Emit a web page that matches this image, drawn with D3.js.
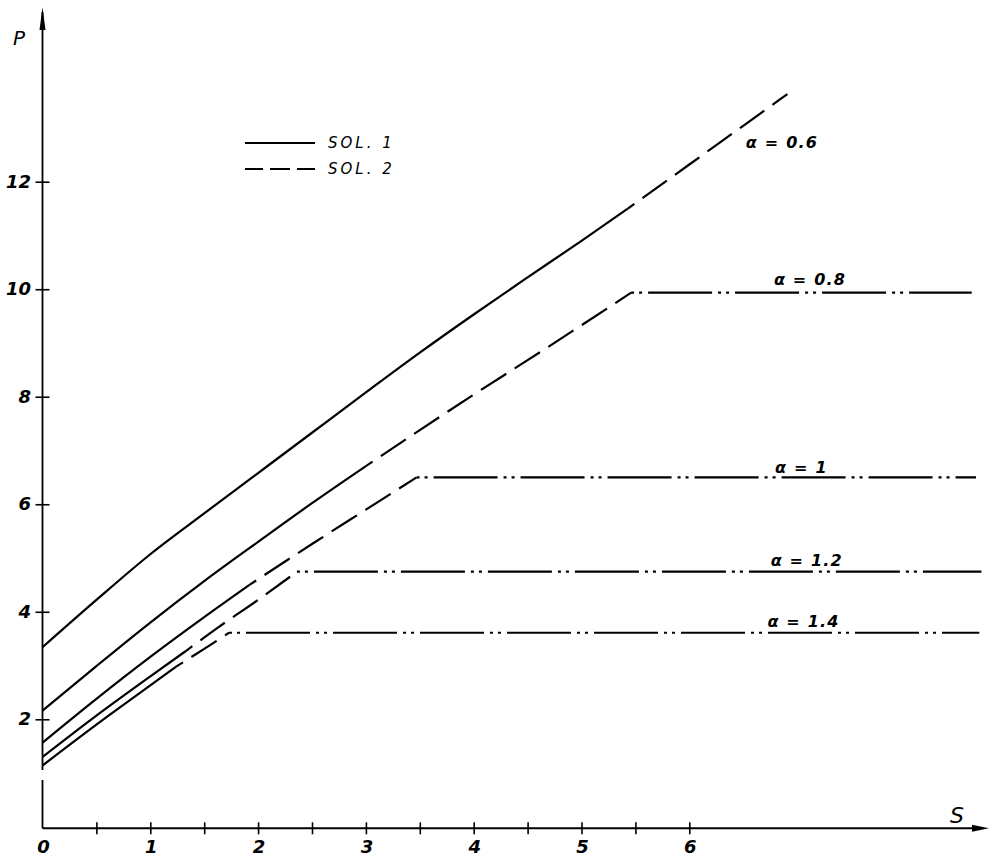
<!DOCTYPE html>
<html>
<head>
<meta charset="utf-8">
<script src="https://cdn.jsdelivr.net/npm/d3@7"></script>
<style>
  html, body { margin: 0; padding: 0; background: #fff; }
  svg { display: block; }
  text { font-family: "DejaVu Sans", sans-serif; font-style: italic; fill: #000; }
</style>
</head>
<body>
<svg id="chart" width="991" height="857"></svg>
<script>
// ---- data ----
const xTickValues = [0.5, 1, 1.5, 2, 2.5, 3, 3.5, 4, 4.5, 5, 5.5, 6];
const xTickLabels = ["0", "1", "2", "3", "4", "5", "6"];
const yTickValues = [2, 4, 6, 8, 10, 12];
const yTickLabels = ["2", "4", "6", "8", "10", "12"];

const alphaLabels = ["α = 0.6", "α = 0.8", "α = 1", "α = 1.2", "α = 1.4"];

// SOL. 1 (solid) branches
const sol1_s_06 = [0, 0.5, 1, 1.5, 2, 2.5, 3, 3.5, 4, 4.5, 5, 5.43];
const sol1_p_06 = [3.34, 4.22, 5.07, 5.83, 6.58, 7.33, 8.08, 8.82, 9.53, 10.22, 10.90, 11.50];
const sol1_s_08 = [0, 0.5, 1, 1.5, 2, 2.5, 3];
const sol1_p_08 = [2.16, 2.99, 3.80, 4.57, 5.30, 6.02, 6.71];
const sol1_s_10 = [0, 0.5, 1, 1.5, 1.92];
const sol1_p_10 = [1.565, 2.38, 3.16, 3.90, 4.50];
const sol1_s_12 = [0, 0.5, 1, 1.33];
const sol1_p_12 = [1.30, 2.07, 2.80, 3.27];
const sol1_s_14 = [0, 0.5, 1, 1.24];
const sol1_p_14 = [1.14, 1.90, 2.63, 2.98];

// SOL. 2 (dashed) branches
const sol2_s_06 = [5.43, 6, 6.5, 6.91];
const sol2_p_06 = [11.50, 12.32, 13.04, 13.63];
const sol2_s_08 = [3, 3.5, 4, 4.5, 5, 5.46];
const sol2_p_08 = [6.71, 7.38, 8.04, 8.68, 9.33, 9.935];
const sol2_s_10 = [1.92, 2.5, 3, 3.47];
const sol2_p_10 = [4.50, 5.26, 5.90, 6.50];
const sol2_s_12 = [1.33, 1.63, 2, 2.36];
const sol2_p_12 = [3.27, 3.71, 4.22, 4.745];
const sol2_s_14 = [1.24, 1.5, 1.73];
const sol2_p_14 = [2.98, 3.31, 3.61];

// plateaus (dash-dot): start s, end s, level p  (α = 0.8, 1, 1.2, 1.4)
const plateau_s0 = [5.46, 3.47, 2.36, 1.73];
const plateau_s1 = [8.62, 8.66, 8.71, 8.69];
const plateau_p  = [9.935, 6.50, 4.745, 3.61];

// label anchors (data units)
const label_s = [6.86, 7.12, 7.04, 7.09, 7.06];
const label_p = [12.62, 10.07, 6.58, 4.86, 3.71];

const legendLabels = ["SOL. 1", "SOL. 2"];

// ---- drawing ----
const svg = d3.select("#chart");
const x = d3.scaleLinear().domain([0, 8]).range([42.5, 42.5 + 8 * 107.8]);
const y = d3.scaleLinear().domain([0, 12]).range([826.8, 181.7]);

const line = d3.line().x(d => x(d[0])).y(d => y(d[1])).curve(d3.curveMonotoneX);
const zip = (a, b) => a.map((v, i) => [v, b[i]]);

// axes
const axisG = svg.append("g");
const x0 = x(0), yAxisY = y(0) + 1.5;
axisG.append("line").attr("x1", x0).attr("x2", x0).attr("y1", 12).attr("y2", 770)
  .attr("stroke", "#000").attr("stroke-width", 1.8);
axisG.append("line").attr("x1", x0).attr("x2", x0).attr("y1", 780).attr("y2", yAxisY)
  .attr("stroke", "#000").attr("stroke-width", 1.8);
axisG.append("path").attr("d", `M${x0},7 L${x0 - 3},30 L${x0 + 3},30 Z`).attr("fill", "#000");
axisG.append("line").attr("x1", x0).attr("x2", 980).attr("y1", yAxisY).attr("y2", yAxisY)
  .attr("stroke", "#000").attr("stroke-width", 2);
axisG.append("path").attr("d", `M989,${yAxisY} L972,${yAxisY - 3.5} L972,${yAxisY + 3.5} Z`).attr("fill", "#000");

// x ticks via d3 axis
const xAxis = d3.axisBottom(x).tickValues(xTickValues).tickSize(0).tickFormat("");
const gx = svg.append("g").attr("transform", `translate(0,${yAxisY})`).call(xAxis);
gx.select(".domain").remove();
gx.selectAll(".tick line").attr("y1", -6).attr("y2", 6).attr("stroke", "#000").attr("stroke-width", 1.6);
svg.append("g").selectAll("text").data(xTickLabels).join("text")
  .attr("x", (d, i) => x(i) + 1).attr("y", 853)
  .attr("text-anchor", "middle").attr("font-size", 18).attr("font-weight", "bold")
  .text(d => d);

// y ticks via d3 axis
const yAxis = d3.axisLeft(y).tickValues(yTickValues).tickSize(0).tickFormat("");
const gy = svg.append("g").attr("transform", `translate(${x0},0)`).call(yAxis);
gy.select(".domain").remove();
gy.selectAll(".tick line").attr("x1", -7).attr("x2", 7).attr("stroke", "#000").attr("stroke-width", 1.6);
svg.append("g").selectAll("text").data(yTickLabels).join("text")
  .attr("x", 31).attr("y", (d, i) => y(yTickValues[i]) + 6)
  .attr("text-anchor", "end").attr("font-size", 18).attr("font-weight", "bold")
  .text(d => d);

// axis titles
svg.append("text").attr("x", 13).attr("y", 45).attr("font-size", 20).text("P");
svg.append("text").attr("x", 950).attr("y", 823).attr("font-size", 22).text("S");

// curves
const sol1 = [
  zip(sol1_s_06, sol1_p_06), zip(sol1_s_08, sol1_p_08), zip(sol1_s_10, sol1_p_10),
  zip(sol1_s_12, sol1_p_12), zip(sol1_s_14, sol1_p_14)
];
const sol2 = [
  zip(sol2_s_06, sol2_p_06), zip(sol2_s_08, sol2_p_08), zip(sol2_s_10, sol2_p_10),
  zip(sol2_s_12, sol2_p_12), zip(sol2_s_14, sol2_p_14)
];
const plateaus = plateau_p.map((p, i) => [[plateau_s0[i], p], [plateau_s1[i], p]]);

svg.append("g").selectAll("path").data(sol1).join("path")
  .attr("d", line).attr("fill", "none").attr("stroke", "#000").attr("stroke-width", 2.2)
  .attr("stroke-linejoin", "round");
svg.append("g").selectAll("path").data(sol2).join("path")
  .attr("d", line).attr("fill", "none").attr("stroke", "#000").attr("stroke-width", 2.2)
  .attr("stroke-dasharray", "8,10,30,10,30,10,30,10,30,10,30,10,30,10,30,10,30,10,30,10,30,10");
svg.append("g").selectAll("path").data(plateaus).join("path")
  .attr("d", line).attr("fill", "none").attr("stroke", "#000").attr("stroke-width", 2.2)
  .attr("stroke-dasharray", "3,5,3,6,64,6,3,5,3,6,64,6,3,5,3,6,64,6,3,5,3,6,64,6,3,5,3,6,64,6,3,5,3,6,64,6");

// alpha labels
svg.append("g").selectAll("text").data(alphaLabels).join("text")
  .attr("x", (d, i) => x(label_s[i])).attr("y", (d, i) => y(label_p[i]))
  .attr("text-anchor", "middle").attr("font-size", 16).attr("font-weight", "bold")
  .attr("letter-spacing", 1.2)
  .text(d => d);

// legend
const legY = [143, 169];
const lg = svg.append("g");
lg.selectAll("line").data(legendLabels).join("line")
  .attr("x1", 245).attr("x2", 315).attr("y1", (d, i) => legY[i]).attr("y2", (d, i) => legY[i])
  .attr("stroke", "#000").attr("stroke-width", 2)
  .attr("stroke-dasharray", (d, i) => i === 0 ? null : "18,7,20,7,20");
lg.selectAll("text").data(legendLabels).join("text")
  .attr("x", 328).attr("y", (d, i) => legY[i] + 5)
  .attr("font-size", 15).attr("letter-spacing", 3)
  .text(d => d);
</script>
</body>
</html>
